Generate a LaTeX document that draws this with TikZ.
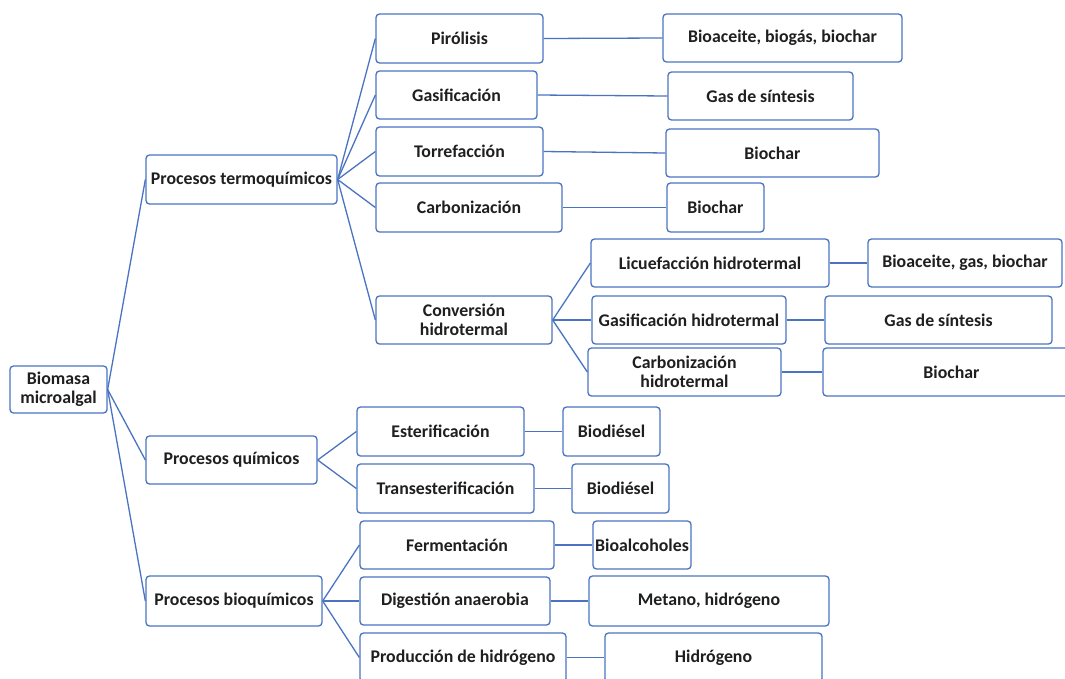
\documentclass[tikz,border=0pt]{standalone}
\usepackage{fontspec}
\setmainfont{Carlito}
\definecolor{ln}{HTML}{4A74C2}
\tikzset{
  box/.style={draw=ln, line width=1.3pt, rounded corners=3.5pt, fill=white, inner sep=0pt,
    align=center, font=\bfseries\fontsize{17.8}{19.5}\selectfont, text=black!88},
  link/.style={draw=ln, line width=1.3pt}
}
\newcommand\bx[6]{%
  \pgfmathsetmacro\bw{#4-#2}\pgfmathsetmacro\bh{#5-#3}%
  \node[box, minimum width=\bw pt, minimum height=\bh pt] (#1) at ({(#2+#4)/2},{(#3+#5)/2}) {#6};}
\begin{document}
\begin{tikzpicture}[x=1pt,y=-1pt]
\useasboundingbox (0,0) rectangle (1065,678);
\clip (0,0) rectangle (1065,678);
\fill[white] (0,0) rectangle (1065,678);
\bx{bio}{10}{366}{107}{413}{Biomasa\\microalgal}
\bx{tq}{146}{155}{337}{204}{Procesos termoquímicos}
\bx{qu}{146}{436}{317}{484}{Procesos químicos}
\bx{bq}{146}{576}{322}{626}{Procesos bioquímicos}
\bx{pir}{376}{14}{543}{63}{Pirólisis}
\bx{pirR}{663}{14}{902}{62}{Bioaceite, biogás, biochar}
\bx{gas}{376}{71}{537}{119}{Gasificación}
\bx{gasR}{668}{72}{853}{120}{Gas de síntesis}
\bx{tor}{376}{127}{543}{176}{Torrefacción}
\bx{torR}{666}{129}{879}{177}{Biochar}
\bx{car}{376}{183}{562}{232}{Carbonización}
\bx{carR}{667}{183}{764}{232}{Biochar}
\bx{hid}{376}{296}{552}{344}{Conversión\\hidrotermal}
\bx{lic}{591}{239}{829}{287}{Licuefacción hidrotermal}
\bx{licR}{868}{239}{1062}{287}{Bioaceite, gas, biochar}
\bx{gh}{592}{296}{786}{344}{Gasificación hidrotermal}
\bx{ghR}{825}{296}{1052}{344}{Gas de síntesis}
\bx{ch}{588}{348}{781}{396}{Carbonización\\hidrotermal}
\bx{chR}{823}{348}{1080}{396}{Biochar}
\bx{est}{357}{407}{524}{456}{Esterificación}
\bx{estR}{563}{407}{660}{456}{Biodiésel}
\bx{tra}{357}{464}{534}{513}{Transesterificación}
\bx{traR}{572}{464}{669}{513}{Biodiésel}
\bx{fer}{360}{521}{554}{569}{Fermentación}
\bx{ferR}{593}{521}{691}{569}{Bioalcoholes}
\bx{dig}{360}{577}{550}{625}{Digestión anaerobia}
\bx{digR}{589}{576}{829}{626}{Metano, hidrógeno}
\bx{pro}{360}{633}{566}{682}{Producción de hidrógeno}
\bx{proR}{605}{633}{822}{682}{Hidrógeno}
% connectors
\foreach \c in {tq,qu,bq} \draw[link] (bio.east) -- (\c.west);
\foreach \c in {pir,gas,tor,car,hid} \draw[link] (tq.east) -- (\c.west);
\foreach \c in {lic,gh,ch} \draw[link] (hid.east) -- (\c.west);
\foreach \c in {est,tra} \draw[link] (qu.east) -- (\c.west);
\foreach \c in {fer,dig,pro} \draw[link] (bq.east) -- (\c.west);
\foreach \a in {pir,gas,tor,car,lic,gh,ch,est,tra,fer,dig,pro} \draw[link] (\a.east) -- (\a R.west);
\end{tikzpicture}
\end{document}
